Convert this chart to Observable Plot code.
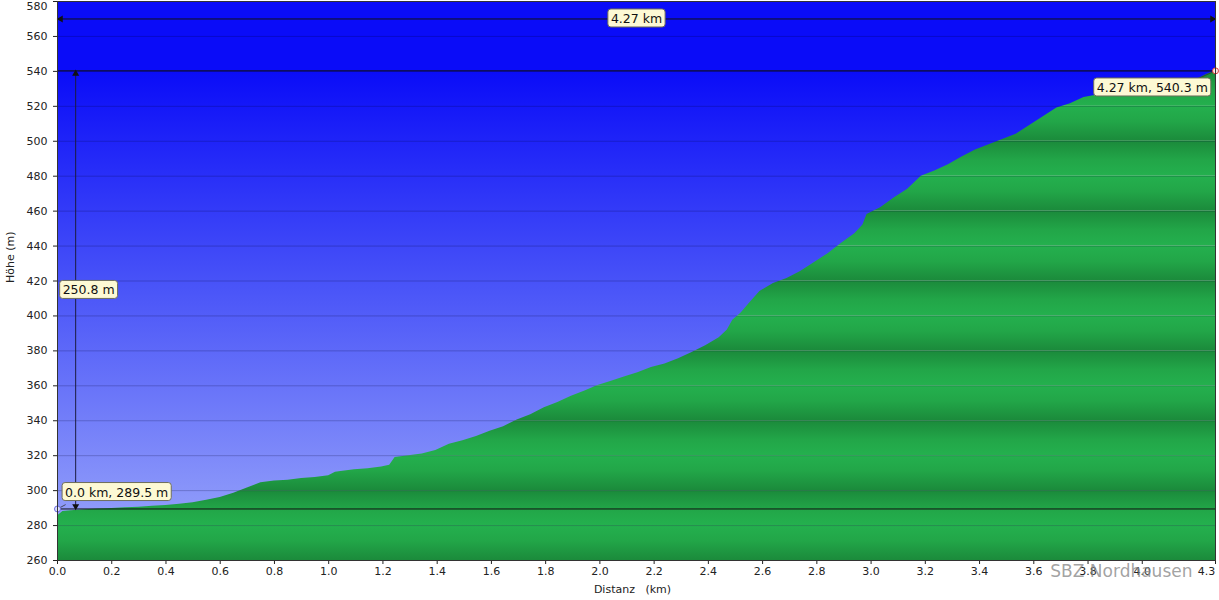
<!DOCTYPE html>
<html><head><meta charset="utf-8">
<script src="https://cdn.jsdelivr.net/npm/d3@7"></script>
<script src="https://cdn.jsdelivr.net/npm/@observablehq/plot@0.6"></script>
<style>body{margin:0;background:#fff;} svg{display:block}</style>
</head><body><div id="chart"></div>
<script>
// Elevation profile (distance in km, elevation in m)
const distKm = [0, 0.02, 0.05, 0.1, 0.15, 0.2, 0.25, 0.3, 0.35, 0.4, 0.45, 0.5, 0.55, 0.6, 0.65, 0.7, 0.75, 0.8, 0.85, 0.9, 0.95, 1.0, 1.025, 1.045, 1.095, 1.145, 1.195, 1.225, 1.245, 1.295, 1.345, 1.395, 1.445, 1.495, 1.545, 1.595, 1.645, 1.695, 1.745, 1.795, 1.845, 1.895, 1.945, 1.99, 2.04, 2.09, 2.14, 2.19, 2.24, 2.29, 2.34, 2.39, 2.44, 2.47, 2.49, 2.52, 2.55, 2.59, 2.64, 2.69, 2.74, 2.79, 2.84, 2.89, 2.94, 2.97, 2.985, 3.035, 3.085, 3.135, 3.185, 3.235, 3.285, 3.335, 3.385, 3.435, 3.485, 3.535, 3.585, 3.635, 3.685, 3.735, 3.785, 3.835, 3.885, 3.935, 3.985, 4.035, 4.085, 4.135, 4.185, 4.235, 4.27];
const elevM = [285.5, 288, 288.5, 289, 289.5, 289.8, 290.2, 290.5, 291, 291.5, 292.2, 293, 294.5, 296, 298.5, 301.5, 304.5, 305.5, 306, 307, 307.5, 308.5, 310.5, 311, 312, 312.5, 313.5, 314.5, 319, 320, 321, 323, 326.5, 328.5, 331, 334, 336.5, 340.5, 343.5, 347.5, 350.5, 354, 357, 360, 362.5, 365, 367.5, 370.5, 372.5, 375.5, 379, 383, 387.5, 392, 397.5, 401.5, 407, 414, 418.5, 421.5, 425.5, 430.5, 435.5, 441.5, 447, 452, 458, 462, 467.5, 472.5, 480, 483, 486.5, 491, 495, 498, 501, 504, 509, 514, 519, 521.5, 525, 526.5, 527.5, 528, 528.5, 528.5, 529.5, 531, 534, 538, 540.3];

const xTicks = [0, 0.2, 0.4, 0.6, 0.8, 1.0, 1.2, 1.4, 1.6, 1.8, 2.0, 2.2, 2.4, 2.6, 2.8, 3.0, 3.2, 3.4, 3.6, 3.8, 4.0, 4.27];
const yTicks = [260, 280, 300, 320, 340, 360, 380, 400, 420, 440, 460, 480, 500, 520, 540, 560, 580];
const xDomain = [0, 4.27];
const yDomain = [260, 580];

// Summary values
const startPt = {d: 0, e: 289.5};
const endPt = {d: 4.27, e: 540.3};
const dimDistY = 570;        // elevation of the distance dimension line
const dimClimbX = 0.067;     // distance of the climb dimension line

// Callout labels
const calloutText = ["4.27 km", "250.8 m", "0.0 km, 289.5 m", "4.27 km, 540.3 m"];
const calloutX = [2.135, 0.019, 0.028, 3.832];
const calloutY = [570, 414.6, 298.9, 530.5];
const calloutAnchor = ["middle", "start", "start", "start"];

const profile = distKm.map((d, i) => ({d, e: elevM[i]}));
const bandLows = yTicks.slice(0, -1);
const bandsA = bandLows.filter((lo, i) => i % 2 === 0).map(lo => ({lo, hi: lo + 20}));
const bandsB = bandLows.filter((lo, i) => i % 2 === 1).map(lo => ({lo, hi: lo + 20}));
const callouts = calloutText.map((t, i) => ({t, x: calloutX[i], y: calloutY[i], a: calloutAnchor[i]}));

const font = "DejaVu Sans, Verdana, sans-serif";

const chart = Plot.plot({
  width: 1219, height: 600,
  marginLeft: 57, marginRight: 4, marginTop: 1, marginBottom: 40,
  style: {fontFamily: font, fontSize: "11px", background: "white", color: "#222", overflow: "visible"},
  x: {domain: xDomain, ticks: xTicks, tickFormat: d3.format(".1f"), label: null, tickSize: 4, tickPadding: 3},
  y: {domain: yDomain, ticks: yTicks, label: null, tickSize: 4, tickPadding: 6},
  marks: [
    // green banded ground
    Plot.rect(bandsA, {x1: xDomain[0], x2: xDomain[1], y1: "lo", y2: "hi", fill: "url(#bandA)"}),
    Plot.rect(bandsB, {x1: xDomain[0], x2: xDomain[1], y1: "lo", y2: "hi", fill: "url(#bandB)"}),
    // blue sky above the profile
    Plot.areaY(profile, {x: "d", y1: "e", y2: yDomain[1], fill: "url(#sky)"}),
    // grid
    Plot.ruleY(yTicks.slice(1, -1), {stroke: "#000030", strokeOpacity: 0.22}),
    // reference lines
    Plot.ruleY([startPt.e, endPt.e], {stroke: "#111", strokeWidth: 1}),
    Plot.ruleY([dimDistY], {stroke: "#111", strokeWidth: 1}),
    Plot.dot([{x: 0.012, r: -90}, {x: 4.258, r: 90}], {x: "x", y: dimDistY, symbol: "triangle", r: 2.6, fill: "#111", rotate: "r"}),
    Plot.ruleX([dimClimbX], {y1: startPt.e, y2: endPt.e, stroke: "#1c1c40", strokeWidth: 1}),
    Plot.dot([{y: endPt.e - 1.6, r: 0}, {y: startPt.e + 1.6, r: 180}], {x: dimClimbX, y: "y", symbol: "triangle", r: 2.6, fill: "#111", rotate: "r"}),
    // start / end markers
    Plot.link([{x1: startPt.d, y1: startPt.e, x2: 0.03, y2: 292}], {x1: "x1", y1: "y1", x2: "x2", y2: "y2", stroke: "#333", strokeWidth: 0.8}),
    Plot.link([{x1: 4.2, y1: 535.5, x2: endPt.d, y2: endPt.e}], {x1: "x1", y1: "y1", x2: "x2", y2: "y2", stroke: "#333", strokeWidth: 0.8}),
    Plot.dot([startPt], {x: "d", y: "e", r: 3, stroke: "#6a6ae0", fill: "#dde0ff", strokeWidth: 1}),
    Plot.dot([endPt], {x: "d", y: "e", r: 3, stroke: "#e04040", fill: "#ffe8e8", strokeWidth: 1}),
    // callouts
    Plot.text(callouts.filter(c => c.a === "middle"), {x: "x", y: "y", text: "t", textAnchor: "middle", fontSize: 12.5, fill: "#111", ariaDescription: "callout"}),
    Plot.text(callouts.filter(c => c.a === "start"), {x: "x", y: "y", text: "t", textAnchor: "start", fontSize: 12.5, fill: "#111", ariaDescription: "callout"}),
    // axis titles
    Plot.text(["Distanz\u00a0\u00a0 (km)"], {frameAnchor: "bottom", dx: -4, dy: 32, fontSize: 11, fill: "#222"}),
    Plot.text(["Höhe (m)"], {frameAnchor: "left", dx: -47, dy: 2, rotate: -90, fontSize: 11, fill: "#222"}),
    // watermark
    Plot.text(["SBZ Nordhausen"], {frameAnchor: "bottom-right", textAnchor: "end", dx: -23, dy: 16, fontSize: 17, fill: "#8a8a8a", fillOpacity: 0.8}),
    Plot.frame({stroke: "#333", strokeWidth: 1})
  ]
});

document.getElementById("chart").appendChild(chart);

// gradients
const svg = d3.select(chart);
const defs = svg.insert("defs", ":first-child");
const ys = chart.scale("y");
const sky = defs.append("linearGradient").attr("id", "sky").attr("gradientUnits", "userSpaceOnUse")
  .attr("x1", 0).attr("x2", 0).attr("y1", ys.apply(endPt.e)).attr("y2", ys.apply(startPt.e));
sky.append("stop").attr("offset", 0).attr("stop-color", "#0a0cf8");
sky.append("stop").attr("offset", 0.5).attr("stop-color", "#4a55f8");
sky.append("stop").attr("offset", 1).attr("stop-color", "#8e9afa");
const bright = "#24b04e", dark = "#1b8a3b";
const gA = defs.append("linearGradient").attr("id", "bandA").attr("x1", 0).attr("x2", 0).attr("y1", 0).attr("y2", 1);
gA.append("stop").attr("offset", 0).attr("stop-color", bright);
gA.append("stop").attr("offset", 0.45).attr("stop-color", "#22a648");
gA.append("stop").attr("offset", 1).attr("stop-color", dark);
const gB = defs.append("linearGradient").attr("id", "bandB").attr("x1", 0).attr("x2", 0).attr("y1", 0).attr("y2", 1);
gB.append("stop").attr("offset", 0).attr("stop-color", dark);
gB.append("stop").attr("offset", 0.55).attr("stop-color", "#22a648");
gB.append("stop").attr("offset", 1).attr("stop-color", bright);

// callout boxes behind texts
svg.selectAll("g[aria-description=callout] text").each(function() {
  const b = this.getBBox();
  const tr = this.getAttribute("transform");
  const r = d3.select(this.parentNode).insert("rect", () => this)
    .attr("x", b.x - 3).attr("y", b.y - 2).attr("width", b.width + 6).attr("height", b.height + 3)
    .attr("rx", 3).attr("fill", "#fdf9d4").attr("stroke", "#6e6e5a").attr("stroke-width", 1);
  if (tr) r.attr("transform", tr);
});

// keep edge tick labels inside the picture, as in the reference
function nudge(label, dx, dy) {
  svg.selectAll("text").filter(function() { return this.textContent === label; })
    .attr("transform", function() { return (this.getAttribute("transform") || "") + ` translate(${dx},${dy})`; });
}
nudge("580", 0, 5);
nudge("4.3", -9, 0);
</script>
</body></html>
